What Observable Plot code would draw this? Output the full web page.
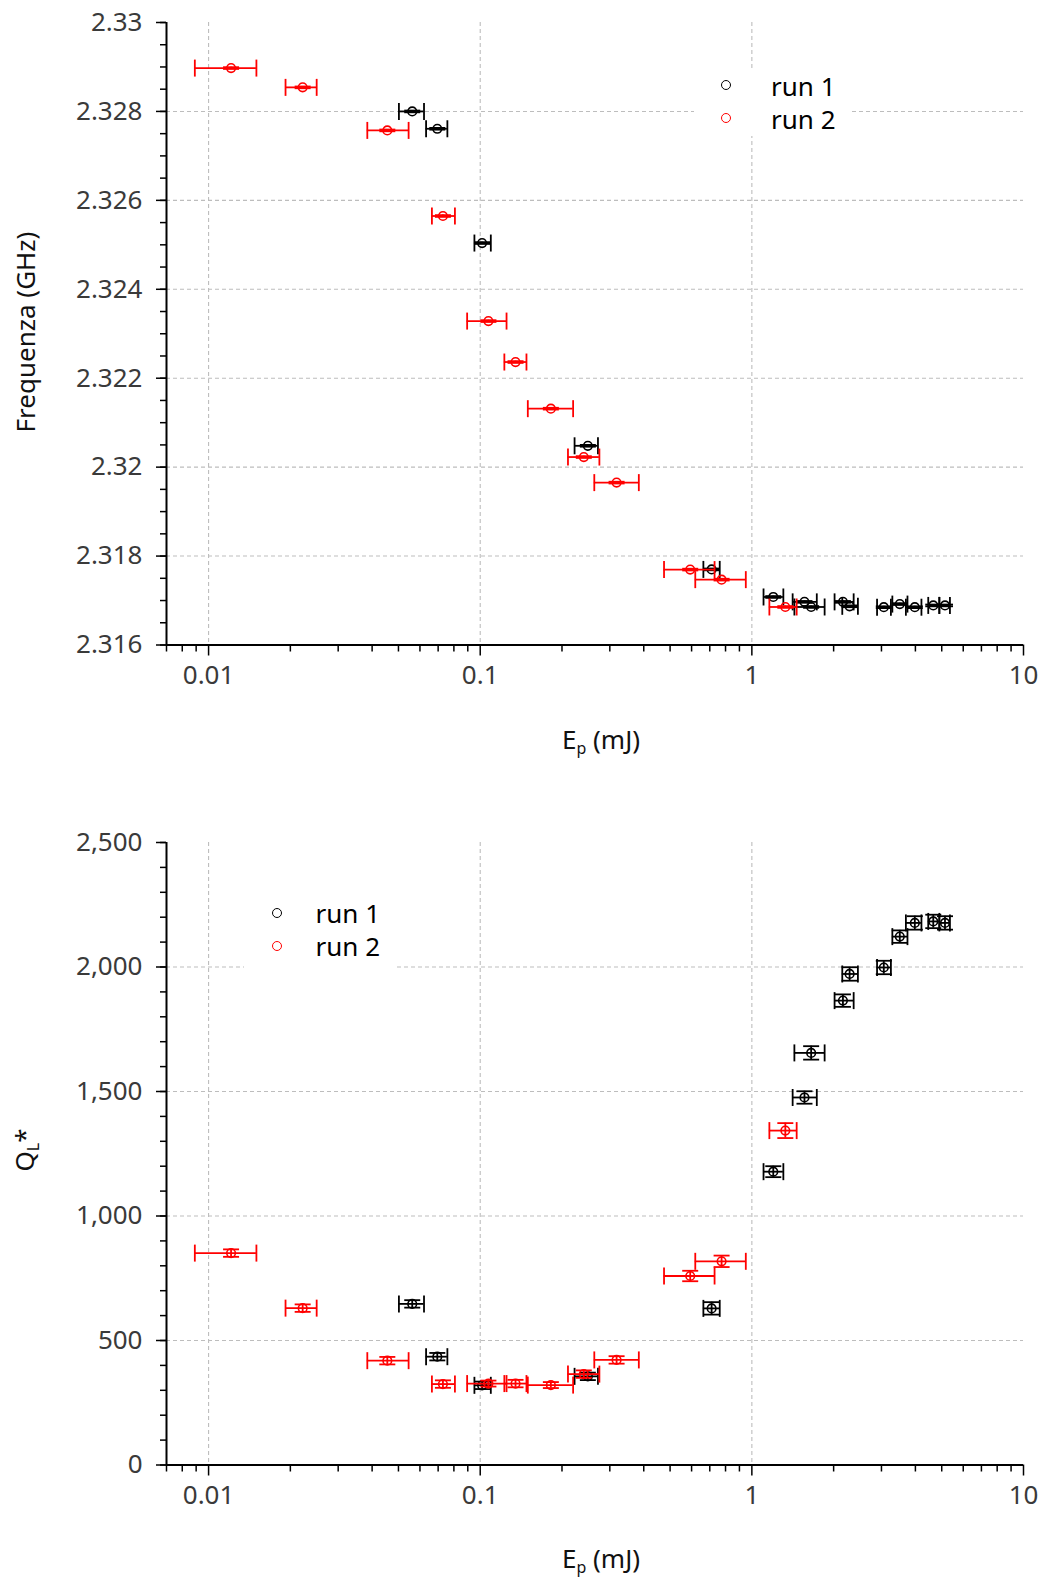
<!DOCTYPE html>
<html><head><meta charset="utf-8">
<script src="https://cdn.jsdelivr.net/npm/d3@7"></script>
<script src="https://cdn.jsdelivr.net/npm/@observablehq/plot@0.6"></script>
<style>
body{margin:0;background:#fff;font-family:"Noto Sans",sans-serif;}
#wrap{position:relative;width:1040px;height:1577px;overflow:hidden;}
#wrap svg{position:absolute;left:0;}
.lab{position:absolute;font-size:26px;color:#111;white-space:nowrap;transform:translate(-50%,-50%);}
.lab.rot{transform:translate(-50%,-50%) rotate(-90deg);}
.lab sub{font-size:16px;vertical-align:-5px;}
.legend{position:absolute;background:#fff;}
.li{position:absolute;font-size:26px;line-height:36px;color:#000;white-space:nowrap;}
.mk{position:absolute;width:8px;height:8px;border-radius:50%;border:1.6px solid;}
</style></head><body><div id="wrap"></div><script>
// ---------------- data ----------------
// run 1 (black)
const run1_E    = [0.0562, 0.0695, 0.1016, 0.249, 0.711, 1.199, 1.562, 1.653, 2.164, 2.29, 3.06, 3.504, 3.98, 4.654, 5.14];
const run1_Elo  = [0.0502, 0.0632, 0.0952, 0.2225, 0.663, 1.104, 1.413, 1.434, 2.016, 2.152, 2.89, 3.29, 3.69, 4.46, 4.90];
const run1_Ehi  = [0.0621, 0.0757, 0.1094, 0.2713, 0.7616, 1.306, 1.734, 1.853, 2.37, 2.457, 3.25, 3.74, 4.21, 4.90, 5.36];
const run1_f    = [2.32800, 2.32761, 2.32504, 2.32048, 2.31770, 2.31708, 2.31697, 2.316855, 2.31697, 2.31687, 2.31685, 2.31692, 2.31685, 2.31689, 2.31689];
const run1_ferr = [0.00002, 0.00002, 0.00002, 0.00002, 0.00002, 0.00002, 0.00002, 0.00002, 0.00002, 0.00002, 0.00002, 0.00002, 0.00002, 0.00002, 0.00002];
const run1_Q    = [647, 435, 320, 356, 629, 1178, 1476, 1655, 1865, 1972, 1998, 2122, 2177, 2183, 2177];
const run1_Qerr = [15, 15, 15, 15, 25, 22, 25, 27, 25, 27, 27, 25, 27, 27, 27];
// run 2 (red)
const run2_E    = [0.0121, 0.0222, 0.0455, 0.0729, 0.1072, 0.1349, 0.182, 0.2406, 0.3177, 0.593, 0.7737, 1.328];
const run2_Elo  = [0.0089, 0.0192, 0.0384, 0.0664, 0.0895, 0.1227, 0.1497, 0.2104, 0.263, 0.475, 0.619, 1.16];
const run2_Ehi  = [0.0150, 0.0250, 0.0545, 0.0807, 0.125, 0.148, 0.2198, 0.2746, 0.3836, 0.729, 0.950, 1.462];
const run2_f    = [2.328975, 2.328541, 2.327573, 2.325648, 2.323285, 2.322364, 2.321315, 2.320227, 2.319652, 2.317696, 2.31747, 2.316855];
const run2_ferr = [0.00002, 0.00002, 0.00002, 0.00002, 0.00002, 0.00002, 0.00002, 0.00002, 0.00002, 0.00002, 0.00002, 0.00002];
const run2_Q    = [851, 630, 419, 325, 327, 327, 321, 365, 422, 759, 818, 1343];
const run2_Qerr = [15, 15, 15, 15, 12, 15, 12, 15, 15, 21, 23, 30];

const runNames  = ["run 1", "run 2"];
const runColors = ["#000000", "#ff0000"];

// ticks
const xMajor = [0.01, 0.1, 1, 10];
const xMinor = [0.007, 0.008, 0.009, 0.02, 0.03, 0.04, 0.05, 0.06, 0.07, 0.08, 0.09,
                0.2, 0.3, 0.4, 0.5, 0.6, 0.7, 0.8, 0.9, 2, 3, 4, 5, 6, 7, 8, 9];
const xGrid  = [0.01, 0.1, 1];
const fMajor = [2.316, 2.318, 2.32, 2.322, 2.324, 2.326, 2.328, 2.33];
const qMajor = [0, 500, 1000, 1500, 2000, 2500];

// -------------- build tables ----------------
function rows(E, lo, hi, f, fe, Q, Qe, name) {
  return E.map((e, i) => ({E: e, lo: lo[i], hi: hi[i], f: f[i], fe: fe[i], Q: Q[i], Qe: Qe[i], run: name}));
}
const data1 = rows(run1_E, run1_Elo, run1_Ehi, run1_f, run1_ferr, run1_Q, run1_Qerr, runNames[0]);
const data2 = rows(run2_E, run2_Elo, run2_Ehi, run2_f, run2_ferr, run2_Q, run2_Qerr, runNames[1]);
const runs = [[data1, runColors[0]], [data2, runColors[1]]];

const vbar = {draw(ctx, size) { const r = Math.sqrt(size / Math.PI); ctx.moveTo(0, -r); ctx.lineTo(0, r); }};
const hbar = {draw(ctx, size) { const r = Math.sqrt(size / Math.PI); ctx.moveTo(-r, 0); ctx.lineTo(r, 0); }};

const W = 1040, ML = 166, MR = 17, MT = 22, PH = 622.5;
const xDomain = [0.007, 10];

function errMarks(key, ekey) {
  const out = [];
  for (const [d, c] of runs) {
    out.push(Plot.ruleY(d, {y: key, x1: "lo", x2: "hi", stroke: c, strokeWidth: 1.8}));
    out.push(Plot.dot(d, {x: "lo", y: key, symbol: vbar, r: 8.5, stroke: c, strokeWidth: 1.8, fill: "none"}));
    out.push(Plot.dot(d, {x: "hi", y: key, symbol: vbar, r: 8.5, stroke: c, strokeWidth: 1.8, fill: "none"}));
    out.push(Plot.ruleX(d, {x: "E", y1: r => r[key] - r[ekey], y2: r => r[key] + r[ekey], stroke: c, strokeWidth: 1.8}));
    out.push(Plot.dot(d, {x: "E", y: r => r[key] - r[ekey], symbol: hbar, r: 8, stroke: c, strokeWidth: 1.8, fill: "none"}));
    out.push(Plot.dot(d, {x: "E", y: r => r[key] + r[ekey], symbol: hbar, r: 8, stroke: c, strokeWidth: 1.8, fill: "none"}));
    out.push(Plot.dot(d, {x: "E", y: key, r: 4.3, stroke: c, strokeWidth: 1.6, fill: "none"}));
  }
  return out;
}

function chart({height, yDomain, yMajor, yMinor, yFormat, key, ekey}) {
  const gridY = yMajor.filter(v => v !== yDomain[0] && v !== yDomain[1]);
  return Plot.plot({
    width: W, height,
    marginLeft: ML, marginRight: MR, marginTop: MT, marginBottom: height - MT - PH,
    style: {fontFamily: "'Noto Sans', sans-serif", fontSize: "26px", background: "white", overflow: "visible"},
    x: {type: "log", domain: xDomain, label: null},
    y: {domain: yDomain, label: null},
    marks: [
      Plot.ruleX(xGrid, {stroke: "#bdbdbd", strokeWidth: 1.1, strokeDasharray: "4,3"}),
      Plot.ruleY(gridY, {stroke: "#bdbdbd", strokeWidth: 1.1, strokeDasharray: "4,3"}),
      ...errMarks(key, ekey),
      Plot.axisX(xMinor, {tickSize: 7, tickFormat: () => "", stroke: "#000", strokeWidth: 1.5, label: null}),
      Plot.axisX(xMajor, {tickSize: 11, tickPadding: 10, tickFormat: d => String(d), stroke: "#000", fill: "#3a3a3a", strokeWidth: 1.5, label: null}),
      Plot.axisY(yMinor, {tickSize: 6, tickFormat: () => "", stroke: "#000", strokeWidth: 1.5, label: null}),
      Plot.axisY(yMajor, {tickSize: 10, tickPadding: 14, tickFormat: yFormat, stroke: "#000", fill: "#3a3a3a", strokeWidth: 1.5, label: null}),
      Plot.ruleX([xDomain[0]], {stroke: "#000", strokeWidth: 2}),
      Plot.ruleY([yDomain[0]], {stroke: "#000", strokeWidth: 2})
    ]
  });
}

const wrap = document.getElementById("wrap");

const topChart = chart({
  height: 820, yDomain: [2.316, 2.33], yMajor: fMajor,
  yMinor: d3.range(2.316, 2.33001, 0.0005),
  yFormat: d => String(+d.toFixed(3)), key: "f", ekey: "fe"
});
topChart.style.top = "0px";
wrap.appendChild(topChart);

const botChart = chart({
  height: 757, yDomain: [0, 2500], yMajor: qMajor,
  yMinor: d3.range(0, 2501, 100),
  yFormat: d3.format(","), key: "Q", ekey: "Qe"
});
botChart.style.top = "820px";
wrap.appendChild(botChart);

// axis titles
function lab(html, x, y, rot) {
  const el = document.createElement("div");
  el.className = "lab" + (rot ? " rot" : "");
  el.innerHTML = html;
  el.style.left = x + "px"; el.style.top = y + "px";
  wrap.appendChild(el);
}
lab("E<sub>p</sub> (mJ)", 601, 740, false);
lab("Frequenza (GHz)", 25, 332, true);
lab("E<sub>p</sub> (mJ)", 601, 1559, false);
lab("Q<sub>L</sub>*", 25, 1150, true);

// legends
function legend(box, mx, tx, ys) {
  const b = document.createElement("div");
  b.className = "legend";
  Object.assign(b.style, {left: box[0] + "px", top: box[1] + "px", width: box[2] + "px", height: box[3] + "px"});
  wrap.appendChild(b);
  runNames.forEach((n, i) => {
    const m = document.createElement("div");
    m.className = "mk";
    Object.assign(m.style, {left: (mx - 5.6) + "px", top: (ys[i] - 5.6) + "px", borderColor: runColors[i]});
    wrap.appendChild(m);
    const t = document.createElement("div");
    t.className = "li";
    t.textContent = n;
    Object.assign(t.style, {left: tx + "px", top: (ys[i] - 18) + "px"});
    wrap.appendChild(t);
  });
}
legend([694, 70, 158, 66], 727, 771, [85.5, 118.7]);
legend([244, 893, 150, 78], 277.6, 315.5, [913.2, 946.4]);
</script></body></html>
